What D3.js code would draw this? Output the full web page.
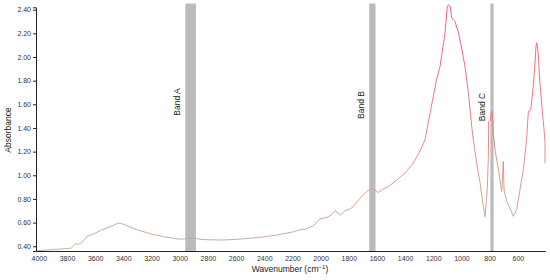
<!DOCTYPE html>
<html><head><meta charset="utf-8">
<script src="https://cdn.jsdelivr.net/npm/d3@7"></script>
<style>
body{margin:0;background:#fff;}
svg{display:block;font-family:"Liberation Sans",Arial,sans-serif;}
</style></head>
<body><svg id="c" width="550" height="280"></svg>
<script>
const wavenumber = [4015,3900,3802,3770,3740,3720,3700,3670,3655,3640,3610,3560,3495,3447,3424,3376,3305,3200,3100,3000,2960,2915,2880,2850,2800,2700,2600,2500,2400,2300,2200,2146,2100,2052,2004,1957,1921,1898,1874,1857,1827,1791,1768,1720,1673,1637,1614,1590,1555,1519,1472,1436,1400,1350,1300,1259,1223,1183,1179,1152,1117,1100,1091,1081,1069,1046,1022,998,975,951,927,916,892,868,845,833,817,809,807,800,794,785,778,774,762,738,714,703,698,679,660,632,608,585,561,538,525,509,490,478,471,466,459,452,447,435,423,414,407,407];
const absorbance = [0.362,0.372,0.38,0.385,0.42,0.415,0.43,0.46,0.49,0.49,0.505,0.535,0.565,0.59,0.597,0.575,0.54,0.503,0.478,0.46,0.462,0.47,0.465,0.458,0.455,0.453,0.458,0.468,0.48,0.497,0.52,0.54,0.548,0.573,0.632,0.642,0.666,0.70,0.68,0.666,0.70,0.714,0.736,0.807,0.863,0.89,0.872,0.855,0.884,0.905,0.948,0.985,1.02,1.09,1.19,1.30,1.525,1.77,1.80,1.92,2.20,2.43,2.44,2.43,2.33,2.30,2.21,2.07,1.92,1.70,1.41,1.30,1.10,0.935,0.74,0.65,0.88,1.16,1.455,1.46,1.48,1.54,1.47,1.36,1.215,1.05,0.863,1.117,0.877,0.78,0.736,0.652,0.71,0.877,1.046,1.30,1.54,1.55,1.75,1.95,2.09,2.12,2.07,1.98,1.84,1.67,1.50,1.39,1.27,1.10];
const xTicks = [4000,3800,3600,3400,3200,3000,2800,2600,2400,2200,2000,1800,1600,1400,1200,1000,800,600];
const yTicks = [0.40,0.60,0.80,1.00,1.20,1.40,1.60,1.80,2.00,2.20,2.40];
const bandNames = ["Band A","Band B","Band C"];
const bandStart = [2960,1655,795];
const bandEnd = [2885,1610,772];

const svg = d3.select("#c");
const x = d3.scaleLinear().domain([4020,405]).range([36,545.3]);
const y = d3.scaleLinear().domain([0.36,2.42]).range([251,7.3]);

// bands
bandNames.forEach((name,i)=>{
  const x0 = x(bandStart[i]), x1 = x(bandEnd[i]);
  svg.append("rect").attr("x",x0).attr("y",3.5).attr("width",x1-x0).attr("height",251-3.5).attr("fill","#bbbbbb");
  svg.append("text").attr("transform",`translate(${x0-5},${i===0?102:(i===1?105:107)}) rotate(-90)`)
    .attr("text-anchor","middle").attr("font-size",8.5).attr("fill","#222").text(name);
});

// gradient
const defs = svg.append("defs");
const g = defs.append("linearGradient").attr("id","lg").attr("gradientUnits","userSpaceOnUse")
  .attr("x1",0).attr("x2",0).attr("y1",y(0.36)).attr("y2",y(2.45));
[[0,"#c6a88c"],[0.3,"#d49482"],[0.55,"#ec6c78"],[1,"#f84a5c"]].forEach(s=>g.append("stop").attr("offset",s[0]).attr("stop-color",s[1]));

const pts = wavenumber.map((w,i)=>[w,absorbance[i]]);
svg.append("path").datum(pts).attr("fill","none").attr("stroke","url(#lg)").attr("stroke-width",0.9)
  .attr("d",d3.line().x(d=>x(d[0])).y(d=>y(d[1])));

// axes
const xa = svg.append("g").attr("transform","translate(0,251)")
  .call(d3.axisBottom(x).tickValues(xTicks).tickFormat(d3.format("d")).tickSize(0).tickPadding(5));
xa.select(".domain").attr("stroke","#222");
xa.selectAll("text").attr("font-size",7).attr("fill","#333").attr("font-family","Liberation Sans, Arial, sans-serif");
const ya = svg.append("g").attr("transform","translate(36,0)")
  .call(d3.axisLeft(y).tickValues(yTicks).tickFormat(d3.format(".2f")).tickSize(3).tickPadding(2));
ya.select(".domain").attr("stroke","#222");
ya.selectAll("line").attr("stroke","#222");
ya.selectAll("text").attr("font-size",7).attr("fill","#333").attr("font-family","Liberation Sans, Arial, sans-serif");

svg.append("text").attr("transform","translate(11,130) rotate(-90)").attr("text-anchor","middle")
  .attr("font-size",8.5).attr("fill","#222").text("Absorbance");
const t = svg.append("text").attr("x",290).attr("y",272).attr("text-anchor","middle").attr("font-size",8.5).attr("fill","#222");
t.append("tspan").text("Wavenumber (cm");
t.append("tspan").attr("dy",-3).attr("font-size",6).text("−1");
t.append("tspan").attr("dy",3).text(")");
</script></body></html>
